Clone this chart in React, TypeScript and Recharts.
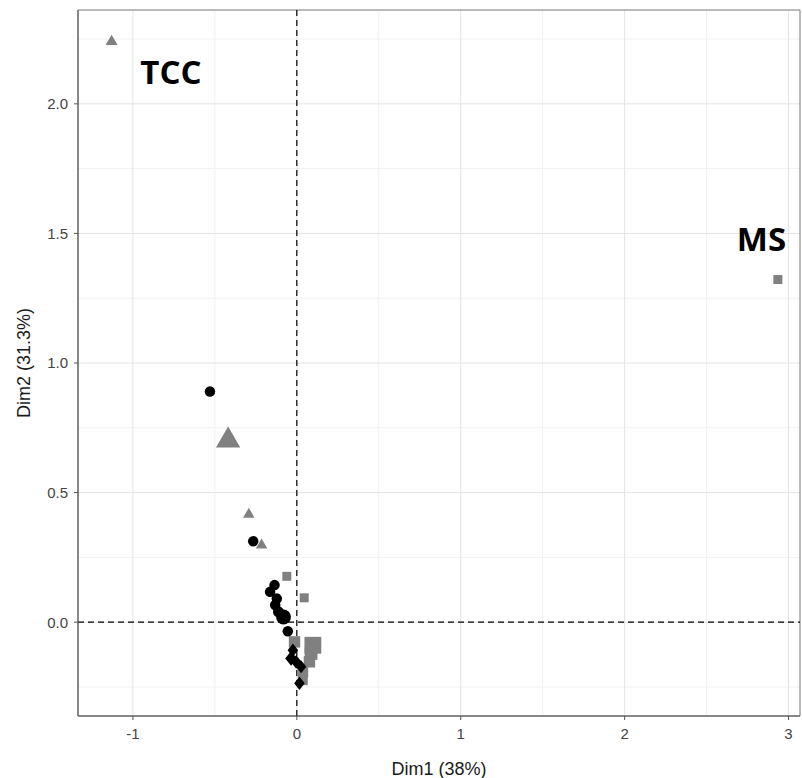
import * as React from 'react';
import { CartesianGrid, ReferenceArea, ReferenceLine, Scatter, ScatterChart, XAxis, YAxis, ZAxis } from 'recharts';

// Individuals coordinates on Dim1 / Dim2, one set per group (shape)
const circleX = [-0.53, -0.266, -0.136, -0.163, -0.122, -0.132, -0.112, -0.081, -0.055];
const circleY = [0.89, 0.312, 0.143, 0.117, 0.091, 0.066, 0.04, 0.02, -0.035];
const circleContrib = [1.1, 1.1, 1.1, 1.1, 1.1, 1.1, 1.2, 2.2, 1.1];

const triangleX = [-1.13, -0.419, -0.293, -0.215];
const triangleY = [2.24, 0.701, 0.416, 0.297];
const triangleContrib = [1.1, 4.5, 1.0, 1.0];

const squareX = [2.935, -0.061, 0.045, -0.014, 0.098, 0.087, 0.077, 0.037, 0.037];
const squareY = [1.322, 0.177, 0.094, -0.076, -0.089, -0.121, -0.153, -0.192, -0.224];
const squareContrib = [1.0, 1.0, 1.0, 1.6, 3.5, 2.0, 1.6, 1.4, 1.2];

const diamondX = [-0.024, -0.035, -0.004, 0.026, 0.016];
const diamondY = [-0.108, -0.14, -0.153, -0.172, -0.236];
const diamondContrib = [1.2, 1.5, 1.3, 1.2, 1.2];

// Text labels
const labelNames = ['TCC', 'MS'];
const labelX = [-0.768, 2.835];
const labelY = [2.123, 1.48];

// Axis ticks
const xTicks = [-1, 0, 1, 2, 3];
const yTicks = [0, 0.5, 1, 1.5, 2];
const xMinor = [-0.5, 0.5, 1.5, 2.5];
const yMinor = [-0.25, 0.25, 0.75, 1.25, 1.75, 2.25];

const xDomain = [-1.335, 3.07];
const yDomain = [-0.362, 2.362];

const build = (xs: number[], ys: number[], cs: number[]) =>
    xs.map((x, i) => ({ x, y: ys[i], contrib: cs[i] }));

const makeShape = (kind: string, color: string) => (props: any) => {
    const { cx, cy, size } = props;
    if (cx == null || cy == null) return <g />;
    const w = Math.sqrt(size || 100);
    if (kind === 'circle') return <circle cx={cx} cy={cy} r={w / 2} fill={color} />;
    if (kind === 'square') {
        const s = w * 0.9;
        return <rect x={cx - s / 2} y={cy - s / 2} width={s} height={s} fill={color} />;
    }
    if (kind === 'triangle') {
        const s = w * 1.15;
        const h = s * 0.866;
        const pts = `${cx},${cy - (2 * h) / 3} ${cx - s / 2},${cy + h / 3} ${cx + s / 2},${cy + h / 3}`;
        return <polygon points={pts} fill={color} />;
    }
    const d = w * 0.6;
    const pts = `${cx},${cy - d} ${cx + d * 0.8},${cy} ${cx},${cy + d} ${cx - d * 0.8},${cy}`;
    return <polygon points={pts} fill={color} />;
};

const LabelShape = (props: any) => {
    const { cx, cy, payload } = props;
    if (cx == null || cy == null) return <g />;
    return (
        <text
            x={cx}
            y={cy}
            textAnchor="middle"
            dominantBaseline="central"
            fontFamily="'Open Sans', sans-serif"
            fontWeight={700}
            fontSize={33}
            fill="#000"
        >
            {payload.name}
        </text>
    );
};

const tickStyle = { fontSize: 15, fill: '#444', fontFamily: "'Liberation Sans', Arial, sans-serif" };

export default function App() {
    const circles = build(circleX, circleY, circleContrib);
    const triangles = build(triangleX, triangleY, triangleContrib);
    const squares = build(squareX, squareY, squareContrib);
    const diamonds = build(diamondX, diamondY, diamondContrib);
    const labels = labelNames.map((name, i) => ({ name, x: labelX[i], y: labelY[i] }));

    return (
        <div style={{ position: 'absolute', left: 0, top: 0, width: 802, height: 778, background: '#fff' }}>
            <ScatterChart width={802} height={778} margin={{ top: 10, right: 2, bottom: 0, left: 0 }}>
                <CartesianGrid stroke="#f0f0f0" verticalValues={xMinor} horizontalValues={yMinor} />
                <CartesianGrid stroke="#e3e3e3" verticalValues={xTicks} horizontalValues={yTicks} />
                <XAxis
                    type="number"
                    dataKey="x"
                    domain={xDomain}
                    ticks={xTicks}
                    allowDataOverflow
                    height={62}
                    tick={tickStyle}
                    tickSize={4}
                    tickMargin={8}
                    stroke="#555"
                    tickFormatter={(v: number) => String(v)}
                    label={{
                        value: 'Dim1 (38%)',
                        position: 'insideBottom',
                        offset: 3,
                        style: { fontSize: 18, fill: '#1a1a1a', fontFamily: "'Liberation Sans', Arial, sans-serif" },
                    }}
                />
                <YAxis
                    type="number"
                    dataKey="y"
                    domain={yDomain}
                    ticks={yTicks}
                    allowDataOverflow
                    width={78}
                    tick={tickStyle}
                    tickSize={4}
                    tickMargin={6}
                    stroke="#555"
                    tickFormatter={(v: number) => v.toFixed(1)}
                    label={{
                        value: 'Dim2 (31.3%)',
                        angle: -90,
                        position: 'insideLeft',
                        offset: 24,
                        style: {
                            fontSize: 18,
                            fill: '#1a1a1a',
                            textAnchor: 'middle',
                            fontFamily: "'Liberation Sans', Arial, sans-serif",
                        },
                    }}
                />
                <ZAxis type="number" dataKey="contrib" domain={[0, 5]} range={[0, 500]} />
                <ReferenceArea
                    x1={xDomain[0]}
                    x2={xDomain[1]}
                    y1={yDomain[0]}
                    y2={yDomain[1]}
                    fill="none"
                    fillOpacity={0}
                    stroke="#777"
                    strokeWidth={1}
                    ifOverflow="visible"
                />
                <ReferenceLine x={0} stroke="#000" strokeDasharray="6 4" strokeWidth={1.2} />
                <ReferenceLine y={0} stroke="#000" strokeDasharray="6 4" strokeWidth={1.2} />
                <Scatter data={squares} shape={makeShape('square', '#808080')} isAnimationActive={false} />
                <Scatter data={triangles} shape={makeShape('triangle', '#808080')} isAnimationActive={false} />
                <Scatter data={circles} shape={makeShape('circle', '#000')} isAnimationActive={false} />
                <Scatter data={diamonds} shape={makeShape('diamond', '#000')} isAnimationActive={false} />
                <Scatter data={labels} shape={LabelShape} isAnimationActive={false} />
            </ScatterChart>
        </div>
    );
}
